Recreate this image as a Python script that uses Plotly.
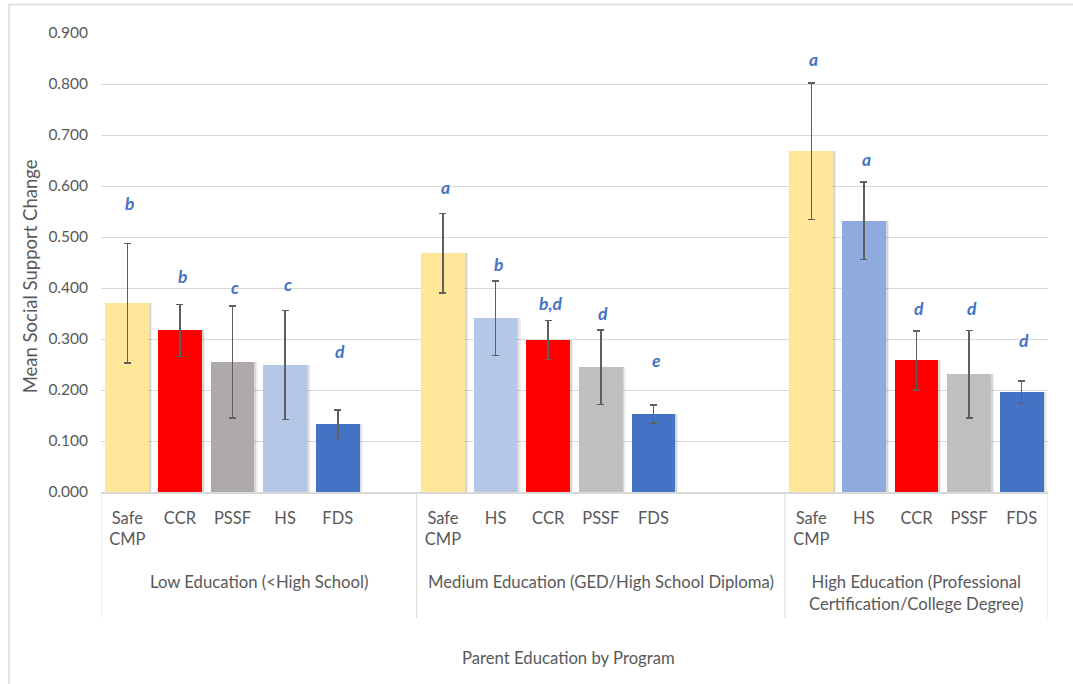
import plotly.graph_objects as go

# ---- data -------------------------------------------------------------
y_ticks = [0.0, 0.1, 0.2, 0.3, 0.4, 0.5, 0.6, 0.7, 0.8, 0.9]

education_groups = [
    "Low Education (&lt;High School)",
    "Medium Education (GED/High School Diploma)",
    "High Education (Professional<br>Certification/College Degree)",
]

programs_low = ["Safe CMP", "CCR", "PSSF", "HS", "FDS"]
means_low = [0.370, 0.317, 0.255, 0.249, 0.133]
errors_low = [0.117, 0.051, 0.110, 0.107, 0.028]
letters_low = ["b", "b", "c", "c", "d"]

programs_medium = ["Safe CMP", "HS", "CCR", "PSSF", "FDS"]
means_medium = [0.468, 0.341, 0.298, 0.245, 0.153]
errors_medium = [0.078, 0.073, 0.038, 0.073, 0.018]
letters_medium = ["a", "b", "b,d", "d", "e"]

programs_high = ["Safe CMP", "HS", "CCR", "PSSF", "FDS"]
means_high = [0.668, 0.532, 0.258, 0.231, 0.196]
errors_high = [0.134, 0.076, 0.058, 0.086, 0.022]
letters_high = ["a", "a", "d", "d", "d"]

# height (in axis units) where each significance letter sits
letter_heights_low = [0.566, 0.423, 0.401, 0.407, 0.275]
letter_heights_medium = [0.598, 0.446, 0.370, 0.350, 0.257]
letter_heights_high = [0.849, 0.651, 0.359, 0.359, 0.297]

# ---- styling ----------------------------------------------------------
colors_low = ["#FFE699", "#FF0000", "#AEAAAA", "#B4C7E7", "#4472C4"]
colors_medium = ["#FFE699", "#B4C7E7", "#FF0000", "#BFBFBF", "#4472C4"]
colors_high = ["#FFE699", "#8FAADC", "#FF0000", "#BFBFBF", "#4472C4"]

# category slots reserved on the axis for each education group
slots_per_group = [6, 7, 5]

FONT = "Lato"
TEXT = "#595959"
GRID = "#D9D9D9"
LETTER = "#4472C4"
BAR_W = 0.83

groups = [
    (programs_low, means_low, errors_low, letters_low, letter_heights_low, colors_low),
    (programs_medium, means_medium, errors_medium, letters_medium, letter_heights_medium, colors_medium),
    (programs_high, means_high, errors_high, letters_high, letter_heights_high, colors_high),
]

xs, ys, errs, cols, labels, lett, lett_y = [], [], [], [], [], [], []
group_centers, boundaries = [], [-0.5]
start = 0
for (progs, means, es, lets, lh, cs), n in zip(groups, slots_per_group):
    for i, p in enumerate(progs):
        xs.append(start + i)
        ys.append(means[i])
        errs.append(es[i])
        cols.append(cs[i])
        labels.append(p.replace(" ", "<br>"))
        lett.append(lets[i])
        lett_y.append(lh[i])
    group_centers.append(start - 0.5 + n / 2)
    start += n
    boundaries.append(start - 0.5)

fig = go.Figure()

# soft drop shadow behind the bars
for off, alpha in [(0.06, 0.06), (0.035, 0.10)]:
    fig.add_trace(go.Bar(
        x=xs, y=ys, width=BAR_W, offset=-BAR_W / 2 + off,
        marker=dict(color=f"rgba(0,0,0,{alpha})", line=dict(width=0)),
        hoverinfo="skip", showlegend=False,
    ))

fig.add_trace(go.Bar(
    x=xs, y=ys, width=BAR_W, offset=-BAR_W / 2,
    marker=dict(color=cols, line=dict(width=0)),
    error_y=dict(type="data", array=errs, visible=True,
                 color="#5F5F5F", thickness=1.5, width=3.5),
    showlegend=False,
))

annotations = []
for x, y, t in zip(xs, lett_y, lett):
    annotations.append(dict(
        x=x + 0.05, y=y, xref="x", yref="y", text=t, showarrow=False,
        font=dict(family=FONT, size=17.5, color=LETTER, weight="bold", style="italic"),
        xanchor="center", yanchor="middle",
    ))

for cx, name in zip(group_centers, education_groups):
    annotations.append(dict(
        x=cx, y=-0.170, xref="x", yref="paper", text=name, showarrow=False,
        font=dict(family=FONT, size=16.7, color=TEXT),
        xanchor="center", yanchor="top",
    ))

annotations.append(dict(
    x=0.4937, y=-0.3617, xref="paper", yref="paper",
    text="Parent Education by Program", showarrow=False,
    font=dict(family=FONT, size=16.7, color=TEXT),
    xanchor="center", yanchor="middle",
))
annotations.append(dict(
    x=-0.0749, y=0.47, xref="paper", yref="paper",
    text="Mean Social Support Change", showarrow=False, textangle=-90,
    font=dict(family=FONT, size=18.5, color=TEXT),
    xanchor="center", yanchor="middle",
))

shapes = []
for b in boundaries:
    shapes.append(dict(type="line", xref="x", yref="paper",
                       x0=b, x1=b, y0=0, y1=-0.2745,
                       line=dict(color=GRID, width=1)))
# chart frame
shapes.append(dict(type="rect", xref="paper", yref="paper",
                   x0=-0.0971, x1=1.12, y0=-0.6, y1=1.062,
                   line=dict(color=GRID, width=1.5)))

fig.update_layout(
    width=1073, height=684,
    margin=dict(l=101, r=25, t=33, b=192),
    paper_bgcolor="white", plot_bgcolor="white",
    barmode="overlay", bargap=0,
    font=dict(family=FONT, color=TEXT, size=15),
    annotations=annotations, shapes=shapes,
    xaxis=dict(
        range=[-0.5, sum(slots_per_group) - 0.5],
        tickmode="array", tickvals=xs, ticktext=labels,
        showgrid=False, zeroline=False, ticks="",
        showline=True, linecolor=GRID, linewidth=1.5,
        tickfont=dict(family=FONT, size=16.5, color=TEXT),
        ticklabelstandoff=10, tickangle=0,
    ),
    yaxis=dict(
        range=[0, 0.9], tickmode="array", tickvals=y_ticks,
        tickformat=".3f", showgrid=True, gridcolor=GRID, gridwidth=1,
        zeroline=False, showline=False, ticks="",
        tickfont=dict(family=FONT, size=15.5, color=TEXT),
        ticklabelstandoff=12,
    ),
)

fig.write_html("out.html")
